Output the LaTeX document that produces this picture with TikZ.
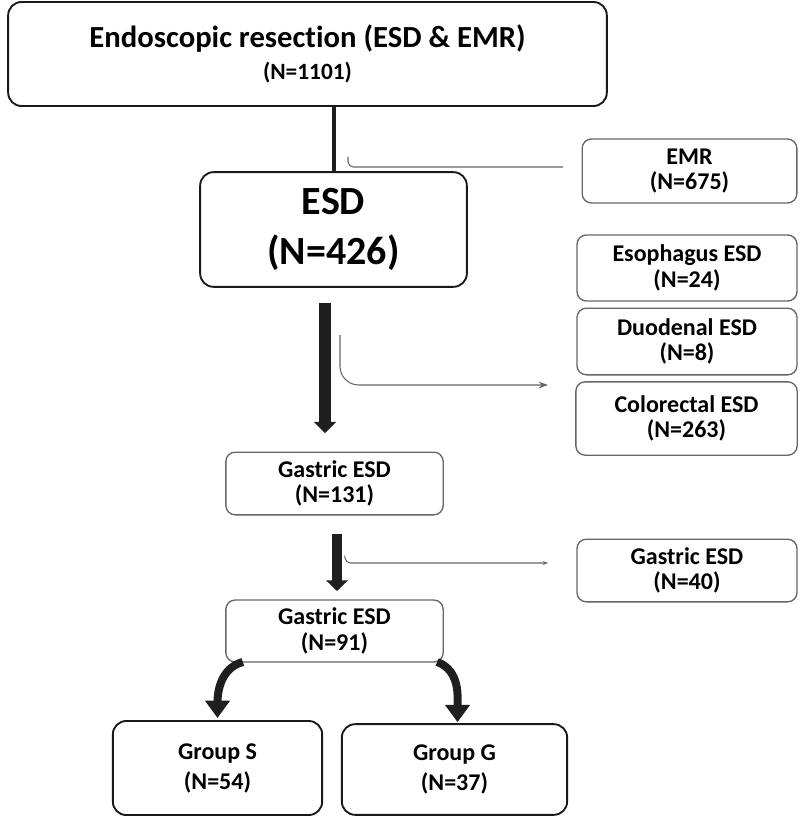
\documentclass[tikz,border=0pt]{standalone}
\usepackage{fontspec}
\setmainfont{Carlito}[Ligatures=NoCommon]
\usetikzlibrary{arrows.meta,calc}

\begin{document}
\begin{tikzpicture}[x=0.75pt,y=-0.75pt,font=\bfseries,
                    box/.style={draw=black!90,line width=1.4pt,rounded corners=10pt,
                                align=center,inner sep=0pt,outer sep=0pt},
                    side/.style={draw=black!60,line width=1pt,rounded corners=7pt,
                                 align=center,inner sep=0pt,outer sep=0pt,
                                 font=\bfseries\fontsize{18}{19}\selectfont},
                    bigarrow/.style={draw=black!88,line width=7.5pt},
                    branch/.style={draw=black!60,line width=0.8pt},
                    splitarrow/.style={draw=black!88,line width=6pt,
                                 -{Triangle[width=18pt,length=13pt]}}]
  \useasboundingbox[fill=white] (0,0) rectangle (800,816);

  \node[box,minimum width=449pt,minimum height=78pt,
        font=\bfseries\fontsize{23}{24}\selectfont] (top) at (307.5,54)
        {Endoscopic resection (ESD \& EMR)\\\fontsize{17.5}{24}\selectfont(N=1101)};
  \node[box,minimum width=200pt,minimum height=86pt,
        font=\bfseries\fontsize{30}{37}\selectfont] (esd) at (333.5,229.5) {ESD\\(N=426)};

  \node[side,minimum width=161pt,minimum height=48pt] (emr) at (689.5,171) {EMR\\(N=675)};
  \node[side,minimum width=165pt,minimum height=49.5pt] (eso) at (687,268) {Esophagus ESD\\(N=24)};
  \node[side,minimum width=165pt,minimum height=50pt] (duo) at (687,341.5) {Duodenal ESD\\(N=8)};
  \node[side,minimum width=166pt,minimum height=55pt] (col) at (686.5,418.5) {Colorectal ESD\\(N=263)};
  \node[side,minimum width=165pt,minimum height=47pt] (g40) at (687,570.5) {Gastric ESD\\(N=40)};

  \node[side,minimum width=163pt,minimum height=47pt] (g131) at (334.5,483.5) {Gastric ESD\\(N=131)};
  \node[side,minimum width=163pt,minimum height=46.5pt] (g91) at (334.5,631) {Gastric ESD\\(N=91)};

  \node[box,minimum width=157pt,minimum height=70.5pt,
        font=\bfseries\fontsize{18}{22.5}\selectfont] (gs) at (217.5,768) {Group S\\(N=54)};
  \node[box,minimum width=169pt,minimum height=68pt,
        font=\bfseries\fontsize{18}{22.5}\selectfont] (gg) at (454.5,769.5) {Group G\\(N=37)};

  % top box down to ESD, side line to EMR
  \draw[draw=black!88,line width=3pt] (top.south -| esd.north) -- (esd.north);
  \coordinate (p1) at (348,157);
  \coordinate (p2) at (563,167);
  \draw[branch,rounded corners=4pt] (p1) |- (p2);

  % ESD down to gastric
  \coordinate (q1) at (325,303);
  \draw[bigarrow,line width=9pt,-{Triangle[width=16.5pt,length=8.5pt]}]
        (q1) -- ($(q1 |- g131.north)+(0,-19)$);
  \coordinate (q2) at (340,335);
  \coordinate (q3) at (548,385);
  \draw[branch,rounded corners=14pt,-{Stealth[length=7pt,width=5pt]}] (q2) |- (q3);

  % gastric 131 to 91
  \coordinate (r1) at (337,534);
  \draw[bigarrow,-{Triangle[width=16pt,length=8pt]}] (r1) -- ($(r1 |- g91.north)+(0,-9)$);
  \coordinate (r2) at (345,558);
  \coordinate (r3) at (548,563);
  \draw[branch,rounded corners=4pt,-{Stealth[length=4pt,width=3pt]}] (r2) |- (r3);

  % split into the two groups
  \draw[splitarrow] ($(g91.south west)+(17,0)$) to[out=195,in=90] ($(gs.north)+(0,-3)$);
  \draw[splitarrow] ($(g91.south east)+(-6,0)$) to[out=-20,in=90] ($(gg.north)+(3,-2)$);
\end{tikzpicture}
\end{document}
